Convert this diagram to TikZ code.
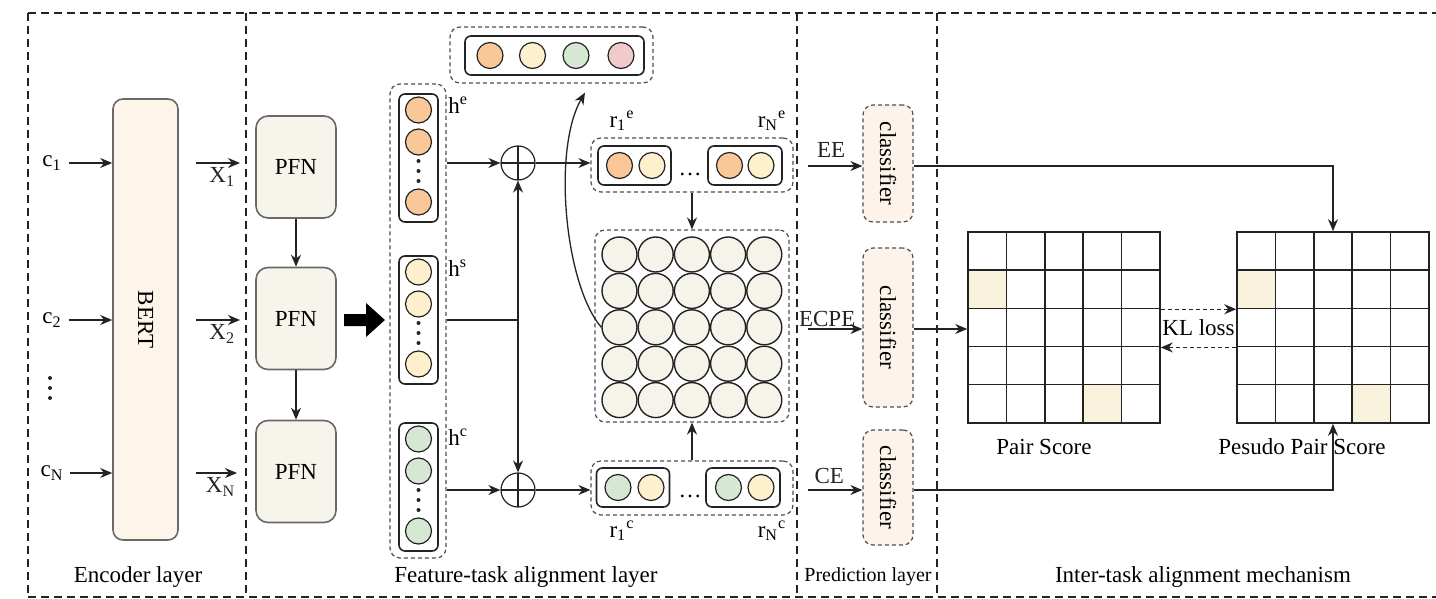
\documentclass[tikz,border=0pt]{standalone}
\usepackage{fontspec}
\setmainfont{Liberation Serif}
\usepackage{xcolor}
\usepackage{tikz}
\usetikzlibrary{arrows.meta, positioning, calc}
\definecolor{linegray}{RGB}{35,35,35}
\definecolor{boxgray}{RGB}{105,105,105}
\definecolor{bertfill}{RGB}{253,244,234}
\definecolor{pfnfill}{RGB}{246,244,235}
\definecolor{clsfill}{RGB}{253,243,234}
\definecolor{eorange}{RGB}{250,200,152}
\definecolor{scream}{RGB}{255,240,205}
\definecolor{cgreen}{RGB}{214,232,212}
\definecolor{ppink}{RGB}{243,202,204}
\definecolor{pairfill}{RGB}{245,243,234}
\definecolor{hlcell}{RGB}{249,243,221}
\tikzset{
  frame/.style={draw=linegray, dash pattern=on 4pt off 2.5pt, line width=1pt},
  grp/.style={draw=linegray!80, dash pattern=on 2pt off 1.5pt, line width=0.6pt,
    rounded corners=5pt, inner sep=0pt},
  bertbox/.style={draw=boxgray, fill=bertfill, rounded corners=5pt, line width=0.8pt},
  pfnbox/.style={draw=boxgray, fill=pfnfill, rounded corners=6pt, line width=0.8pt,
    minimum width=40pt, minimum height=51pt},
  vecbox/.style={draw=linegray, rounded corners=3pt, line width=0.8pt, inner sep=0pt},
  dotc/.style={circle, draw=linegray, line width=0.6pt, inner sep=0pt, minimum size=13pt},
  ecirc/.style={dotc, fill=eorange},
  scirc/.style={dotc, fill=scream},
  ccirc/.style={dotc, fill=cgreen},
  pcirc/.style={dotc, fill=ppink},
  paircirc/.style={circle, draw=linegray, fill=pairfill, line width=0.7pt,
    inner sep=0pt, minimum size=17.5pt},
  oplus/.style={circle, draw=linegray, line width=0.6pt, minimum size=17pt, inner sep=0pt,
    path picture={\draw[linegray, line width=0.6pt]
      (path picture bounding box.north) -- (path picture bounding box.south)
      (path picture bounding box.west) -- (path picture bounding box.east);}},
  clsbox/.style={draw=linegray!80, fill=clsfill, dash pattern=on 2pt off 1.5pt,
    rounded corners=5pt, line width=0.6pt, minimum width=25pt},
  sq/.style={draw=linegray, line width=0.75pt, minimum size=19.2pt, inner sep=0pt},
  arr/.style={-{Stealth[length=6pt,width=5pt]}, line width=0.65pt, color=linegray},
  dasharr/.style={arr, dash pattern=on 2pt off 1.5pt},
  line/.style={line width=0.65pt, color=linegray}
}
% three stacked dots around a named coordinate
\newcommand{\vdotsat}[1]{\foreach \dy in {-10,0,10}
  \fill[linegray] ($(#1)+(0,\dy)$) circle (1pt);}
\begin{document}
\begin{tikzpicture}[x=0.5pt, y=-0.5pt, font=\fontsize{11.5pt}{13pt}\selectfont]
  \useasboundingbox (0,0) rectangle (1436,599);

  % Section frames
  \draw[frame] (28,13) -- (1436,13);
  \draw[frame] (28,597) -- (1436,597);
  \foreach \sx in {28,246,797,937}
    \draw[frame] (\sx,13) -- (\sx,597);

  % Encoder
  \node[bertbox, minimum width=32.5pt, minimum height=220.5pt,
    label={[rotate=-90]center:BERT}] (bert) at (145.5,319.5) {};
  \node (c1) at (52,163) {c\textsubscript{1}};
  \node (c2) at (52,320) {c\textsubscript{2}};
  \coordinate (cdots) at (50,388);
  \vdotsat{cdots}
  \node (cN) at (52,473) {c\textsubscript{N}};
  \draw[arr] (c1) -- (c1 -| bert.west);
  \draw[arr] (c2) -- (c2 -| bert.west);
  \draw[arr] (cN) -- (cN -| bert.west);

  % PFN stack
  \node[pfnbox] (pfn1) at (296,167) {PFN};
  \node[pfnbox] (pfn2) at (296,318.5) {PFN};
  \node[pfnbox] (pfn3) at (296,471.5) {PFN};
  \draw[arr] (pfn1) -- (pfn2);
  \draw[arr] (pfn2) -- (pfn3);

  \coordinate (x1) at (240,163);
  \coordinate (x2) at (240,320);
  \coordinate (xN) at (237,473);
  \draw[arr] ($(bert.east |- x1)+(17,0)$) -- (x1) node[pos=0.6, below, inner sep=2pt] {X\textsubscript{1}};
  \draw[arr] ($(bert.east |- x2)+(17,0)$) -- (x2) node[pos=0.6, below, inner sep=2pt] {X\textsubscript{2}};
  \draw[arr] ($(bert.east |- xN)+(17,0)$) -- (xN) node[pos=0.6, below, inner sep=2pt] {X\textsubscript{N}};

  % fat arrow
  \coordinate (fat) at (344,320);
  \fill[black, shift={(fat)}] (0,-6) -- (22,-6) -- (22,-17) -- (41,0) -- (22,17) -- (22,6) -- (0,6) -- cycle;

  % Hidden features
  \node[grp, minimum width=28pt, minimum height=237pt] (hgrp) at (418,321) {};
  \node[vecbox, minimum width=19.5pt, minimum height=64pt] (he) at (418.5,158) {};
  \node[ecirc] (he1) at (418.5,110) {};
  \node[ecirc] (he2) at (418.5,142) {};
  \coordinate (hedots) at (418.5,171);
  \vdotsat{hedots}
  \node[ecirc] (he3) at (418.5,202) {};
  \node[vecbox, minimum width=19.5pt, minimum height=64pt] (hs) at (418.5,320) {};
  \node[scirc] (hs1) at (418.5,272) {};
  \node[scirc] (hs2) at (418.5,304) {};
  \coordinate (hsdots) at (418.5,333);
  \vdotsat{hsdots}
  \node[scirc] (hs3) at (418.5,364) {};
  \node[vecbox, minimum width=19.5pt, minimum height=64pt] (hc) at (418.5,487) {};
  \node[ccirc] (hc1) at (418.5,439) {};
  \node[ccirc] (hc2) at (418.5,471) {};
  \coordinate (hcdots) at (418.5,500);
  \vdotsat{hcdots}
  \node[ccirc] (hc3) at (418.5,531) {};
  \node[anchor=west, inner sep=1pt] (helab) at (446,105) {h\textsuperscript{e}};
  \node[anchor=west, inner sep=1pt] (hslab) at (446,268) {h\textsuperscript{s}};
  \node[anchor=west, inner sep=1pt] (hclab) at (446,437) {h\textsuperscript{c}};

  % Fusion
  \node[oplus] (pe) at (518,163) {};
  \node[oplus] (pc) at (518,490) {};
  \coordinate (hsj) at (518,320);
  \draw[arr] (pe -| hgrp.east) -- (pe);
  \draw[arr] (pc -| hgrp.east) -- (pc);
  \draw[line] (hsj -| hgrp.east) -- (hsj);
  \draw[arr] (hsj) -- (pe);
  \draw[arr] (hsj) -- (pc);

  % Pair representations
  \node[grp, minimum width=101pt, minimum height=27pt] (re) at (692,165) {};
  \node[vecbox, minimum width=36.5pt, minimum height=19.5pt] (re1) at (634.5,165.5) {};
  \node[ecirc] (re1a) at (619.5,165.5) {};
  \node[scirc] (re1b) at (652,165.5) {};
  \node (redots) at (690,174) {\ldots};
  \node[vecbox, minimum width=37pt, minimum height=19.5pt] (reN) at (745,165.5) {};
  \node[ecirc] (reNa) at (729.5,165.5) {};
  \node[scirc] (reNb) at (761,165.5) {};
  \node (r1elab) at (622,121) {r\textsubscript{1}\textsuperscript{e}};
  \node (rNelab) at (772,121) {r\textsubscript{N}\textsuperscript{e}};

  \node[grp, minimum width=101pt, minimum height=27pt] (rc) at (692,488) {};
  \node[vecbox, minimum width=36.5pt, minimum height=19.5pt] (rc1) at (633,487.5) {};
  \node[ccirc] (rc1a) at (618,487.5) {};
  \node[scirc] (rc1b) at (651,487.5) {};
  \node (rcdots) at (690,496) {\ldots};
  \node[vecbox, minimum width=37pt, minimum height=19.5pt] (rcN) at (743,487.5) {};
  \node[ccirc] (rcNa) at (728.5,487.5) {};
  \node[scirc] (rcNb) at (761,487.5) {};
  \node (r1clab) at (622,531) {r\textsubscript{1}\textsuperscript{c}};
  \node (rNclab) at (772,531) {r\textsubscript{N}\textsuperscript{c}};

  \draw[arr] (pe) -- (pe -| re.west);
  \draw[arr] (pc) -- (pc -| rc.west);

  % Pair matrix
  \node[grp, minimum width=97pt, minimum height=96pt] (mgrp) at (692,326) {};
  \foreach \r in {1,...,5}{
    \foreach \c in {1,...,5}{
      \node[paircirc] (m-\r-\c) at ({619.5+36.2*(\c-1)},{254.5+36.4*(\r-1)}) {};
    }
  }
  \draw[arr] (re) -- (mgrp);
  \draw[arr] (rc) -- (mgrp);

  % Labels set
  \node[grp, minimum width=101.5pt, minimum height=28pt] (tgrp) at (551.5,55) {};
  \node[vecbox, minimum width=89.5pt, minimum height=19.5pt] (tbox) at (554.5,55.5) {};
  \node[ecirc] (t1) at (490,55.5) {};
  \node[scirc] (t2) at (532.5,55.5) {};
  \node[ccirc] (t3) at (576,55.5) {};
  \node[pcirc] (t4) at (621,55.5) {};
  \draw[arr] (m-3-1.west) .. controls (565,285) and (552,150) .. ($(tgrp.south)+(33.5,9)$);

  % Prediction
  \node[clsbox, minimum height=58.5pt, label={[rotate=-90]center:classifier}] (clsE) at (888,163.5) {};
  \node[clsbox, minimum height=79.5pt, label={[rotate=-90]center:classifier}] (clsP) at (888,327.5) {};
  \node[clsbox, minimum height=57.5pt, label={[rotate=-90]center:classifier}] (clsC) at (888,487.5) {};
  \coordinate (eein) at (808,166);
  \coordinate (ecpein) at (808,329);
  \coordinate (cein) at (808,490);
  \draw[arr] (eein) -- (eein -| clsE.west) node[midway, above, inner sep=4pt, xshift=-2pt] {EE};
  \draw[arr] (ecpein) -- (ecpein -| clsP.west) node[midway, above, inner sep=1pt, xshift=-4pt] {ECPE};
  \draw[arr] (cein) -- (cein -| clsC.west) node[midway, above, inner sep=3pt, xshift=-3pt] {CE};

  % Score grids
  \foreach \r in {1,...,5}{
    \foreach \c in {1,...,5}{
      \pgfmathtruncatemacro{\hit}{(\r==2 && \c==1) || (\r==5 && \c==4)}
      \ifnum\hit=1 \def\cellcol{hlcell}\else\def\cellcol{white}\fi
      \node[sq, fill=\cellcol] (pa-\r-\c) at ({968+38.4*(\c-0.5)},{232+38.2*(\r-0.5)}) {};
      \node[sq, fill=\cellcol] (pp-\r-\c) at ({1237+38.4*(\c-0.5)},{232+38.2*(\r-0.5)}) {};
    }
  }
  \node (pairlab) at (1044,447) {Pair Score};
  \node (pseudolab) at (1302,447) {Pesudo Pair Score};
  \draw[dasharr] (pa-2-5.south east) -- (pp-2-1.south west);
  \draw[dasharr] (pp-3-1.south west) -- (pa-3-5.south east);
  \node (kl) at ($(pa-3-5.east)!0.5!(pp-3-1.west)$) {KL loss};

  \draw[arr] (clsE.east |- eein) -| (pp-1-3.north);
  \draw[arr] (clsP.east |- ecpein) -- (ecpein -| pa-3-1.west);
  \draw[arr] (clsC.east |- cein) -| (pp-5-3.south);

  % Section names
  \node (enclab) at (138,577) {Encoder layer};
  \node (ftalab) at (526,577) {Feature-task alignment layer};
  \node[font=\fontsize{10pt}{12pt}\selectfont] (predlab) at (868,577) {Prediction layer};
  \node (italab) at (1203,577) {Inter-task alignment mechanism};
\end{tikzpicture}
\end{document}
